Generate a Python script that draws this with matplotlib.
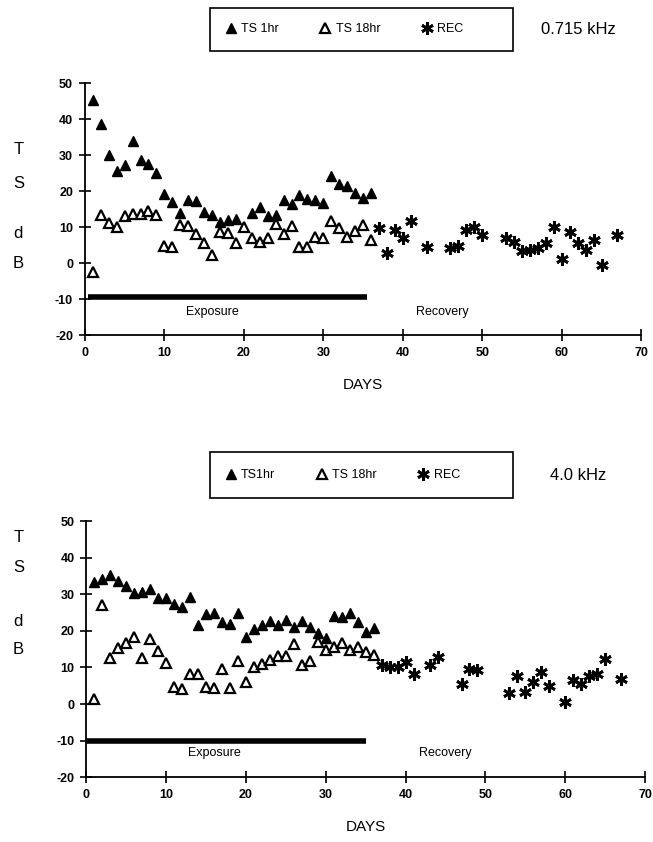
import numpy as np
import matplotlib.pyplot as plt
from matplotlib.patches import Rectangle

plt.rcParams['font.family'] = ['Liberation Sans', 'DejaVu Sans']
plt.rcParams['axes.unicode_minus'] = False

# ---- 0.715 kHz (top panel) ----
top_1hr_days = [1, 2, 3, 4, 5, 6, 7, 8, 9, 10, 11, 12, 13, 14, 15, 16, 17, 18, 19,
                21, 22, 23, 24, 25, 26, 27, 28, 29, 30, 31, 32, 33, 34, 35, 36]
top_1hr = [45.5, 38.8, 30, 25.6, 27.4, 34, 28.8, 27.5, 25.2, 19.2, 16.9, 14, 17.5,
           17.2, 14.3, 13.3, 11.5, 12, 12.3, 13.9, 15.5, 13, 13.3, 17.5, 16.4, 18.9,
           17.8, 17.5, 16.6, 24.2, 21.9, 21.5, 19.4, 18, 19.5]
top_18hr_days = list(range(1, 37))
top_18hr = [-2.4, 13.3, 11.2, 10.1, 13.1, 13.8, 13.8, 14.5, 13.3, 4.8, 4.5, 10.6,
            10.3, 8, 5.7, 2.4, 8.7, 8.5, 5.5, 10.1, 6.9, 5.8, 6.9, 11, 8, 10.4, 4.6,
            4.6, 7.3, 6.9, 11.8, 9.9, 7.3, 8.9, 10.6, 6.4]
top_rec_days = [37, 38, 39, 40, 41, 43, 46, 47, 48, 49, 50, 53, 54, 55, 56, 57, 58,
                59, 60, 61, 62, 63, 64, 65, 67]
top_rec = [9.8, 2.9, 9.2, 6.9, 11.7, 4.5, 4.3, 4.7, 9.2, 10.1, 7.8, 6.9, 5.9, 3.4,
           3.8, 4.3, 5.5, 10.1, 1.1, 8.7, 5.6, 3.6, 6.4, -0.6, 7.8]

# ---- 4.0 kHz (bottom panel) ----
bot_1hr_days = list(range(1, 37))
bot_1hr = [33.4, 34.2, 35.2, 33.7, 32.2, 30.5, 30.7, 31.4, 29.1, 28.9, 27.3, 26.6,
           29.3, 21.6, 24.6, 24.9, 22.5, 22, 24.9, 18.4, 20.4, 21.6, 22.7, 21.6, 23,
           21, 22.7, 21, 19.3, 18, 24, 23.9, 24.8, 22.5, 19.8, 20.7]
bot_18hr_days = list(range(1, 37))
bot_18hr = [1.5, 27, 12.5, 15.2, 16.6, 18.4, 12.7, 17.9, 14.5, 11.3, 4.7, 4.1, 8.2,
            8.2, 4.6, 4.3, 9.5, 4.3, 11.7, 6.1, 10.2, 10.9, 12, 13.2, 13.2, 16.4,
            10.8, 11.8, 17, 14.8, 15.5, 16.7, 14.8, 15.7, 14.3, 13.4]
bot_rec_days = [37, 38, 39, 40, 41, 43, 44, 47, 48, 49, 53, 54, 55, 56, 57, 58, 60,
                61, 62, 63, 64, 65, 67]
bot_rec = [10.7, 10.2, 10.2, 11.6, 8.2, 10.7, 12.8, 5.5, 9.5, 9.3, 3.1, 7.6, 3.4,
           6.1, 8.8, 5, 0.5, 6.7, 5.5, 7.6, 8.1, 12.3, 6.8]

star = (6, 2, 0)
W, H = 653, 842


def panel(ax, d1, v1, d18, v18, drec, vrec, bar, labels, freq, box_px, freq_x):
    h1, = ax.plot(d1, v1, ls='none', marker='^', ms=7, color='k', clip_on=False)
    h18, = ax.plot(d18, v18, ls='none', marker='^', ms=7, mfc='white', mec='k',
                   mew=1.6, clip_on=False)
    hr, = ax.plot(drec, vrec, ls='none', marker=star, ms=9, mec='k', mew=2.0,
                  clip_on=False)
    ax.plot(bar[0:2], [bar[2], bar[2]], color='k', lw=4, solid_capstyle='butt')
    ax.text(16, -13.5, 'Exposure', ha='center', va='center', fontsize=9)
    ax.text(45, -13.5, 'Recovery', ha='center', va='center', fontsize=9)

    ax.set_xlim(0, 70)
    ax.set_ylim(-20, 50)
    ax.set_xticks(range(0, 71, 10))
    ax.set_yticks(range(-20, 51, 10))
    for s in ['top', 'right']:
        ax.spines[s].set_visible(False)
    for s in ['left', 'bottom']:
        ax.spines[s].set_linewidth(1.3)
    ax.tick_params(direction='inout', length=9, width=1.2, labelsize=9, pad=4)
    for lab in ax.get_xticklabels() + ax.get_yticklabels():
        lab.set_fontweight('bold')
    ax.set_xlabel('DAYS', fontsize=11, labelpad=14)

    # legend box drawn by hand, entries from legend()
    x0, x1, y0, y1 = box_px
    fig.add_artist(Rectangle((x0 / W, 1 - y1 / H), (x1 - x0) / W, (y1 - y0) / H,
                             transform=fig.transFigure, fill=False, ec='k', lw=1.2))
    yc = 1 - (y0 + y1) / 2 / H
    ax.legend([h1, h18, hr], labels, ncol=3, loc='center left',
              bbox_to_anchor=((x0 + 8) / W, yc), bbox_transform=fig.transFigure,
              frameon=False, fontsize=9, handletextpad=0.35, columnspacing=3.2,
              handlelength=1.0, markerscale=1.0, borderpad=0)
    fig.text(freq_x, yc, freq, ha='center', va='center', fontsize=12)


fig = plt.figure(figsize=(6.53, 8.42), dpi=100)
ax1 = fig.add_axes([0.130, 0.602, 0.852, 0.299])
ax2 = fig.add_axes([0.132, 0.077, 0.856, 0.304])

panel(ax1, top_1hr_days, top_1hr, top_18hr_days, top_18hr, top_rec_days, top_rec,
      (0.4, 35.5, -9.5), ['TS 1hr', 'TS 18hr', 'REC'], '0.715 kHz',
      (210, 513, 8, 51), 0.885)
panel(ax2, bot_1hr_days, bot_1hr, bot_18hr_days, bot_18hr, bot_rec_days, bot_rec,
      (0, 35, -10), ['TS1hr', 'TS 18hr', 'REC'], '4.0 kHz',
      (210, 513, 452, 498), 0.885)

for ys in [(150, 183, 234, 263), (538, 567, 621, 649)]:
    for ch, y in zip('TSdB', ys):
        fig.text(0.028, 1 - y / H, ch, ha='center', va='center', fontsize=12)

fig.savefig('out.png', dpi=100)
